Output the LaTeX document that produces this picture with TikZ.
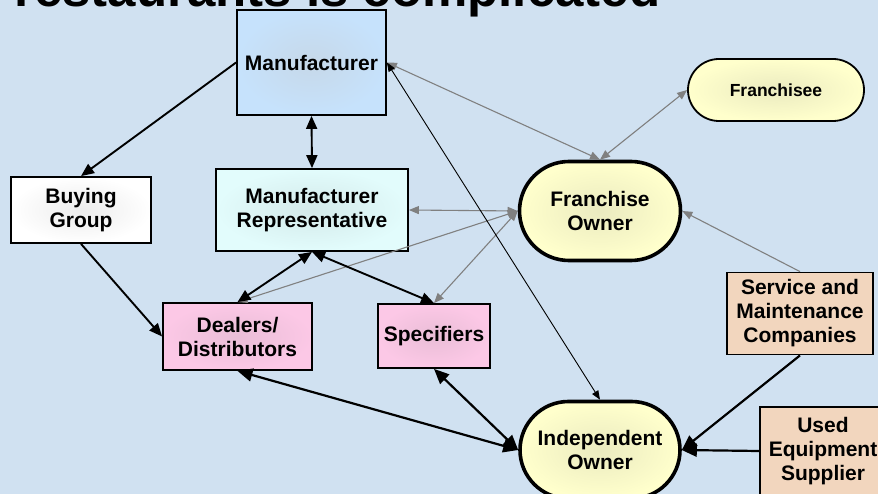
\documentclass[tikz,border=0pt]{standalone}
\usepackage{fontspec}
\setmainfont{Liberation Sans}
\usetikzlibrary{arrows.meta,shapes.misc}
\definecolor{slide}{RGB}{208,225,241}
\definecolor{mfrblue}{RGB}{198,226,252}
\definecolor{repcyan}{RGB}{226,252,252}
\definecolor{dealpink}{RGB}{252,200,230}
\definecolor{ownyellow}{RGB}{255,255,204}
\definecolor{servtan}{RGB}{242,214,190}
\definecolor{linkgray}{RGB}{128,128,128}
\begin{document}
\begin{tikzpicture}[x=1pt,y=-1pt,
  lbl/.style={font=\fontsize{21}{24}\selectfont\bfseries, align=center, inner sep=0pt},
  box/.style={lbl, draw=black, line width=1.8pt, shading=radial},
  pill/.style={lbl, rounded rectangle, draw=black, line width=3.6pt, shading=radial,
    inner color=ownyellow!84!gray, outer color=ownyellow},
  strong/.style={line width=1.9pt, >={Triangle[length=13pt,width=11pt]}},
  heavy/.style={line width=2.2pt, >={Triangle[length=15pt,width=13pt]}},
  fine/.style={line width=0.9pt, >={Triangle[length=9pt,width=7pt]}},
  grayline/.style={line width=1.1pt, draw=linkgray, >={Triangle[length=10pt,width=8pt]}, linkgray}
]
\clip (0,0) rectangle (878,494);
\fill[slide] (0,0) rectangle (878,494);

% heading running off the top edge
\node[anchor=base west, inner sep=0pt, font=\fontsize{51}{56}\selectfont\bfseries] (head) at (14,7) {restaurants is complicated};

% participants
\node[box, minimum width=149pt, minimum height=105pt, inner color=mfrblue!80!gray!80, outer color=mfrblue] (man) at (311.5,62.5) {Manufacturer};
\node[pill, line width=1.8pt, minimum width=176pt, minimum height=62pt, font=\fontsize{17.5}{20}\selectfont\bfseries] (fee) at (776,90) {Franchisee};
\node[box, minimum width=140pt, minimum height=66pt, inner color=white!85!gray, outer color=white] (bg) at (81,210) {Buying\\Group};
\node[box, minimum width=192pt, minimum height=82pt, inner color=repcyan!85!gray, outer color=repcyan] (rep) at (312,210) {Manufacturer\\Representative};
\node[pill, minimum width=161pt, minimum height=99pt] (fo) at (600,211) {Franchise\\Owner};
\node[box, minimum width=149pt, minimum height=67pt, inner color=dealpink!85!gray, outer color=dealpink] (deal) at (237.5,336.5) {Dealers/\\Distributors};
\node[box, minimum width=112pt, minimum height=64pt, inner color=dealpink!85!gray, outer color=dealpink] (spec) at (434,336) {Specifiers};
\node[box, minimum width=146pt, minimum height=82pt, inner color=servtan, outer color=servtan] (serv) at (800,313.5) {Service and\\Maintenance\\Companies};
\node[pill, minimum width=160pt, minimum height=97pt] (ind) at (600,450) {Independent\\Owner};
\node[box, minimum width=126pt, minimum height=88pt, inner color=servtan, outer color=servtan] (used) at (823,451) {Used\\Equipment\\Supplier};

% gray links of the franchise channel
\draw[grayline, <->] (man.east) -- (fo.north);
\draw[grayline, <->] (fee.west) -- (fo.north);
\draw[grayline, <->] (rep.east) -- (fo.west);
\draw[grayline, <->] (deal.north) -- (fo.west);
\draw[grayline, <->] (spec.north) -- (fo.west);
\draw[grayline, ->] (serv.north) -- (fo.east);

% black links
\draw[strong, ->] (man.west) -- (bg.north);
\draw[strong, <->] (man.south) -- (rep.north);
\draw[strong, ->] (bg.south) -- (deal.west);
\draw[strong, <->] (rep.south) -- (deal.north);
\draw[strong, <->] (rep.south) -- (spec.north);
\draw[heavy, <->] (deal.south) -- (ind.west);
\draw[heavy, <->] (spec.south) -- (ind.west);
\draw[heavy, ->] (serv.south) -- (ind.east);
\draw[heavy, ->] (used.west) -- (ind.east);
\draw[fine, <->] (man.east) -- (ind.north);
\end{tikzpicture}
\end{document}
